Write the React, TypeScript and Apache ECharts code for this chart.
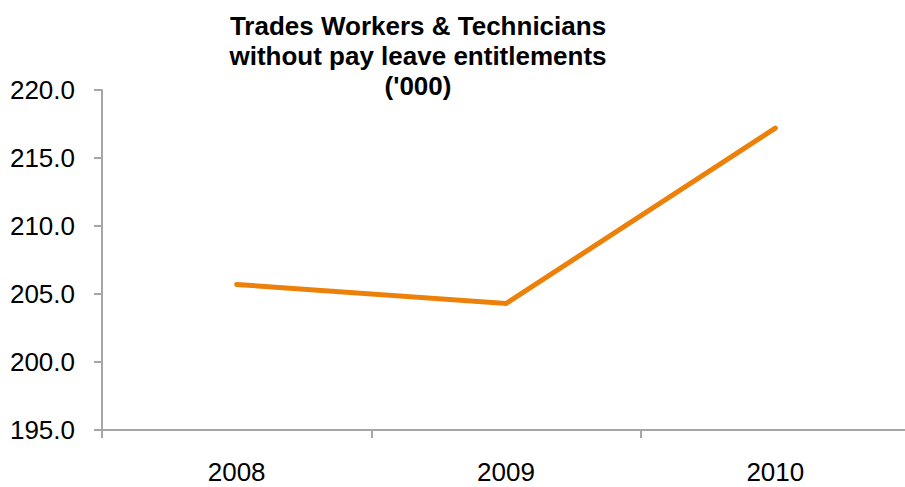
import React, { useEffect, useRef } from "react";
import * as echarts from "echarts";

const titleLines = ["Trades Workers & Technicians", "without pay leave entitlements", "('000)"];
const categories = ["2008", "2009", "2010"];
const values = [205.7, 204.3, 217.2];
const yMin = 195;
const yMax = 220;
const yStep = 5;

export default function App() {
  const ref = useRef<HTMLDivElement>(null);
  useEffect(() => {
    if (!ref.current) return;
    const chart = echarts.init(ref.current, null, { renderer: "svg" });
    const font = "'Liberation Sans', Arial, sans-serif";
    chart.setOption({
      animation: false,
      backgroundColor: "#ffffff",
      title: {
        text: titleLines.join("\n"),
        left: 413,
        top: 6,
        textAlign: "center",
        textStyle: {
          fontFamily: font,
          fontSize: 26,
          fontWeight: "bold",
          color: "#000",
          lineHeight: 30,
        },
      },
      grid: { left: 102, top: 90, width: 808, height: 340, containLabel: false },
      xAxis: {
        type: "category",
        data: categories,
        boundaryGap: true,
        axisLine: { lineStyle: { color: "#A6A6A6", width: 2 } },
        axisTick: { show: true, length: 8, lineStyle: { color: "#A6A6A6", width: 2 } },
        axisLabel: { fontFamily: font, fontSize: 26, color: "#000", margin: 29 },
        splitLine: { show: false },
      },
      yAxis: {
        type: "value",
        min: yMin,
        max: yMax,
        interval: yStep,
        axisLine: { show: true, lineStyle: { color: "#A6A6A6", width: 2 } },
        axisTick: { show: true, length: 8, lineStyle: { color: "#A6A6A6", width: 2 } },
        axisLabel: {
          fontFamily: font,
          fontSize: 26,
          color: "#000",
          margin: 27,
          formatter: (v: number) => v.toFixed(1),
        },
        splitLine: { show: false },
      },
      series: [
        {
          type: "line",
          data: values,
          symbol: "none",
          lineStyle: { color: "#ED8008", width: 5, cap: "round", join: "miter" },
        },
      ],
    });
    return () => chart.dispose();
  }, []);
  return (
    <div style={{ position: "fixed", left: 0, top: 0, width: 905, height: 487, overflow: "hidden" }}>
      <div ref={ref} style={{ width: 915, height: 487 }} />
    </div>
  );
}
